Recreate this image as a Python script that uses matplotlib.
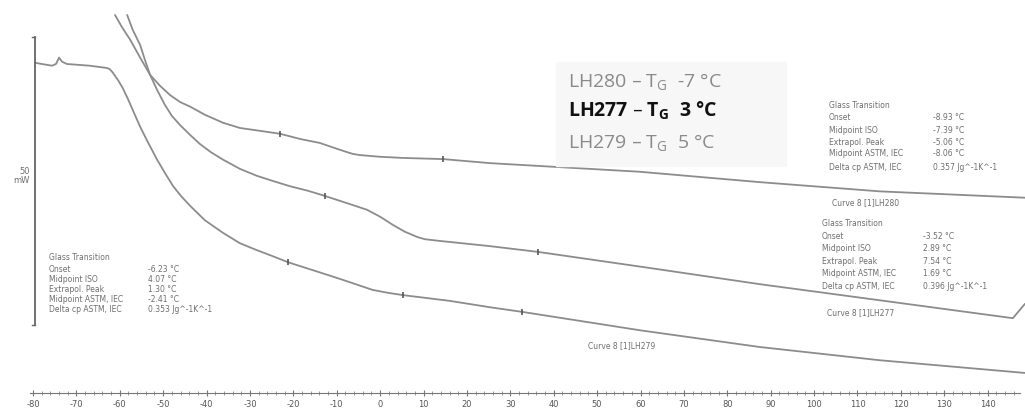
"""
DSC-Thermogramm: Glasübergang der Proben LH277, LH279, LH280.
Uso: python plot.py  -> out.png
"""
import matplotlib
matplotlib.use("Agg")
import matplotlib.pyplot as plt
import numpy as np

# ---------------------------------------------------------------------------
# Datos (leídos del termograma, T en °C, flujo de calor en mW)
# ---------------------------------------------------------------------------
T_LH280 = [-61.1, -59.5, -57.6, -55.3, -53.0, -50.7, -48.4, -46.1, -43.8,
           -40.4, -36.2, -32.3, -27.7, -23.1, -18.5, -13.9, -10.4, -7.6,
           -6.3, -4.7, 0.0, 5.3, 14.5, 25.3, 59.9, 87.5, 115.2, 148.6]
HF_LH280 = [65.6, 63.5, 61.3, 58.2, 55.2, 53.3, 51.7, 50.5, 49.7,
            48.3, 46.9, 46.0, 45.5, 45.0, 44.1, 43.4, 42.5, 41.8,
            41.5, 41.3, 41.0, 40.8, 40.6, 39.9, 38.4, 36.6, 35.0, 33.9]

T_LH277 = [-58.3, -57.0, -55.3, -54.2, -53.0, -51.4, -49.6, -48.0, -46.1,
           -43.8, -41.5, -39.0, -36.2, -32.3, -28.4, -24.7, -20.8, -16.6,
           -12.7, -7.0, -3.0, 0.0, 2.9, 5.7, 8.5, 10.3, 13.8, 25.3, 36.4,
           62.2, 87.5, 115.2, 145.8, 148.6]
HF_LH277 = [65.6, 63.0, 60.4, 57.8, 55.2, 52.6, 50.0, 48.1, 46.5,
            44.8, 43.2, 41.8, 40.5, 38.9, 37.7, 36.8, 35.9, 35.1,
            34.2, 32.8, 31.8, 30.6, 29.2, 28.0, 27.1, 26.7, 26.4, 25.5, 24.5,
            21.7, 18.9, 16.1, 13.0, 15.5]

T_LH279 = [-79.5, -75.6, -74.7, -74.0, -73.3, -72.2, -66.9, -62.9, -62.3,
           -61.6, -60.4, -59.3, -58.1, -57.0, -55.3, -53.7, -51.4, -49.6,
           -47.7, -45.9, -43.8, -40.4, -36.2, -32.3, -28.4, -24.9, -21.2,
           -10.0, -1.7, 1.8, 5.3, 16.1, 25.3, 32.7, 59.9, 87.5, 115.2, 148.6]
HF_LH279 = [57.3, 56.8, 57.1, 58.2, 57.5, 57.1, 56.8, 56.4, 56.2,
            55.6, 54.3, 52.9, 51.0, 49.1, 46.2, 43.8, 40.5, 38.2,
            35.9, 34.2, 32.5, 30.0, 27.8, 26.0, 24.8, 23.8, 22.7,
            20.0, 17.9, 17.4, 17.0, 16.0, 14.9, 14.1, 10.9, 8.0, 5.7, 3.5]

# marcas de evaluación (inicio / fin del escalón) sobre cada curva
MARK_LH280 = [-23.1, 14.5]
MARK_LH277 = [-12.7, 36.4]
MARK_LH279 = [-21.2, 5.3, 32.7]

SCALE_MW = 50

TG_LABELS = ["LH280 – T$_{G}$  -7 °C", "LH277 – T$_{G}$  3 °C", "LH279 – T$_{G}$  5 °C"]

GT_KEYS = ["Glass Transition", "Onset", "Midpoint ISO", "Extrapol. Peak",
           "Midpoint ASTM, IEC", "Delta cp ASTM, IEC"]
GT_LH280 = ["", "-8.93 °C", "-7.39 °C", "-5.06 °C", "-8.06 °C", "0.357 Jg^-1K^-1"]
GT_LH277 = ["", "-3.52 °C", "2.89 °C", "7.54 °C", "1.69 °C", "0.396 Jg^-1K^-1"]
GT_LH279 = ["", "-6.23 °C", "4.07 °C", "1.30 °C", "-2.41 °C", "0.353 Jg^-1K^-1"]

X_TICKS = list(range(-80, 141, 10))
X_MINOR = list(range(-80, 147, 2))

# ---------------------------------------------------------------------------
# Figura
# ---------------------------------------------------------------------------
plt.rcParams["mathtext.default"] = "regular"
plt.rcParams["axes.unicode_minus"] = False
LINE = "#8c8c8c"
TXT = "#6e6e6e"

fig = plt.figure(figsize=(10.25, 4.11), dpi=100)
ax = fig.add_axes([0, 0, 1, 1])
ax.set_xlim(-87.6, 148.6)
ax.set_ylim(-3.1, 68.2)

for T, HF, marks in [(T_LH280, HF_LH280, MARK_LH280),
                     (T_LH277, HF_LH277, MARK_LH277),
                     (T_LH279, HF_LH279, MARK_LH279)]:
    ax.plot(T, HF, color=LINE, lw=1.3, solid_joinstyle="round",
            solid_capstyle="round")
    ax.plot(marks, np.interp(marks, T, HF), ls="none", marker="|",
            ms=5, mew=1.2, color="#555555")

# barra de escala 50 mW
x_bar = -79.5
y_bot = 11.8
ax.plot([x_bar, x_bar], [y_bot, y_bot + SCALE_MW], color="#666666", lw=1.3)
ax.plot([x_bar - 0.8, x_bar], [y_bot + SCALE_MW] * 2, color="#666666", lw=1.0)
ax.plot([x_bar - 0.8, x_bar], [y_bot] * 2, color="#666666", lw=1.0)
fig.text(30 / 1025, 1 - 176 / 411, f"{SCALE_MW}\nmW", ha="right", va="center",
         fontsize=6, color=TXT, linespacing=1.1)

# eje de temperatura
for s in ["left", "right", "top"]:
    ax.spines[s].set_visible(False)
ax.spines["bottom"].set_position(("data", 0))
ax.spines["bottom"].set_bounds(-80.7, 147.4)
ax.spines["bottom"].set_color("#777777")
ax.set_yticks([])
ax.set_xticks(X_TICKS)
ax.set_xticks(X_MINOR, minor=True)
ax.tick_params(axis="x", which="major", direction="inout", length=4,
               color="#777777", labelsize=6, labelcolor="#555555", pad=3)
ax.tick_params(axis="x", which="minor", direction="inout", length=3,
               color="#888888")

# ---------------------------------------------------------------------------
# Leyenda Tg
# ---------------------------------------------------------------------------
fig.patches.append(plt.Rectangle((556 / 1025, 1 - 166 / 411), 230 / 1025, 104 / 411,
                                 transform=fig.transFigure, color="#f7f7f7",
                                 zorder=0))
tg_styles = [dict(color="#8a8a8a", weight="normal"),
             dict(color="#111111", weight="bold"),
             dict(color="#8a8a8a", weight="normal")]
for label, style, ypx in zip(TG_LABELS, tg_styles, [87, 117, 148]):
    fig.text(568 / 1025, 1 - ypx / 411, label, fontsize=14, va="baseline",
             family="Open Sans", **style)

# ---------------------------------------------------------------------------
# Tablas de evaluación
# ---------------------------------------------------------------------------
def gt_table(x_key, x_val, y_rows, values, curve_name, curve_xy):
    for key, val, ypx in zip(GT_KEYS, values, y_rows):
        fig.text(x_key / 1025, 1 - ypx / 411, key, fontsize=5.5, color=TXT,
                 va="center")
        if val:
            fig.text(x_val / 1025, 1 - ypx / 411, val, fontsize=5.5, color=TXT,
                     va="center")
    if curve_name:
        fig.text(curve_xy[0] / 1025, 1 - curve_xy[1] / 411, curve_name,
                 fontsize=5.5, color=TXT, va="center")


gt_table(829, 933, [106, 118, 130, 142, 154, 168], GT_LH280,
         "Curve 8 [1]LH280", (832, 203))
gt_table(822, 923, [223, 236, 248, 261, 273, 286], GT_LH277,
         "Curve 8 [1]LH277", (827, 313))
gt_table(49, 148, [258, 269, 279, 289, 299, 310], GT_LH279,
         "Curve 8 [1]LH279", (588, 346))

fig.savefig("out.png", dpi=100)
